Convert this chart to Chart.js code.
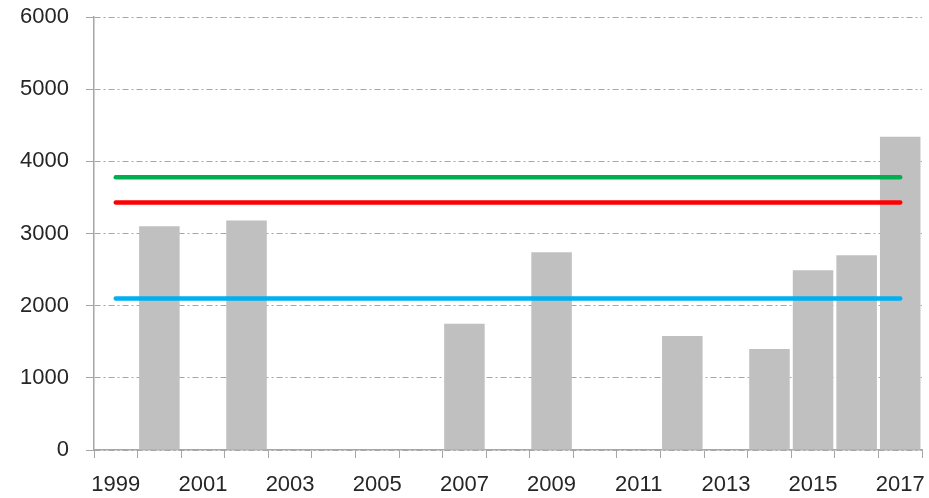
<!DOCTYPE html>
<html>
<head>
<meta charset="utf-8">
<script src="https://cdn.jsdelivr.net/npm/chart.js@4"></script>
<style>
  html, body { margin: 0; padding: 0; background: #fff; }
  #wrap { width: 929px; height: 498px; }
</style>
</head>
<body>
<div id="wrap"><canvas id="chart" width="929" height="498"></canvas></div>
<script>
// Данные
const years = ['1999', '2000', '2001', '2002', '2003', '2004', '2005', '2006', '2007', '2008',
  '2009', '2010', '2011', '2012', '2013', '2014', '2015', '2016', '2017'];
const values = [null, 3100, null, 3180, null, null, null, null, 1750, null,
  2740, null, null, 1580, null, 1400, 2490, 2700, 4340];
const shownYears = ['1999', '2001', '2003', '2005', '2007', '2009', '2011', '2013', '2015', '2017'];
const greenLevel = 3780;
const redLevel = 3430;
const blueLevel = 2100;

const gray = '#a6a6a6';
const font = { family: 'Liberation Sans', size: 22 };

function levelLine(level, color) {
  return {
    type: 'line',
    data: [{ x: years[0], y: level }, { x: years[years.length - 1], y: level }],
    borderColor: color,
    borderWidth: 4.5,
    borderCapStyle: 'round',
    pointRadius: 0,
    fill: false,
    order: 1,
  };
}

const ctx = document.getElementById('chart').getContext('2d');
new Chart(ctx, {
  type: 'bar',
  data: {
    labels: years,
    datasets: [
      levelLine(greenLevel, '#00b050'),
      levelLine(redLevel, '#ff0000'),
      levelLine(blueLevel, '#00b0f0'),
      {
        type: 'bar',
        data: values,
        backgroundColor: '#c0c0c0',
        barPercentage: 0.93,
        categoryPercentage: 1,
        order: 2,
      },
    ],
  },
  options: {
    responsive: false,
    animation: false,
    layout: { padding: { top: 17, right: 7, left: 0, bottom: 0 } },
    plugins: { legend: { display: false }, tooltip: { enabled: false } },
    scales: {
      x: {
        offset: true,
        grid: { offset: true, drawOnChartArea: false, tickLength: 8, color: gray },
        border: { color: gray, width: 1.5 },
        ticks: {
          color: '#262626',
          font: font,
          autoSkip: false,
          maxRotation: 0,
          padding: 14,
          callback: function (value, index) {
            const label = years[index];
            return shownYears.includes(label) ? label : '';
          },
        },
        afterFit: (scale) => {
          scale.height = 48;
          scale.paddingLeft = 0;
          scale.paddingRight = 0;
        },
      },
      y: {
        min: 0,
        max: 6000,
        ticks: {
          stepSize: 1000,
          color: '#262626',
          font: font,
          padding: 17,
          callback: (value) => String(value),
        },
        grid: { color: gray, tickLength: 8, tickBorderDash: [] },
        border: { color: gray, width: 1.5, dash: [6, 3, 2, 3] },
        afterFit: (scale) => {
          scale.width = 94;
          scale.paddingTop = 0;
          scale.paddingBottom = 0;
        },
      },
    },
  },
});
</script>
</body>
</html>
